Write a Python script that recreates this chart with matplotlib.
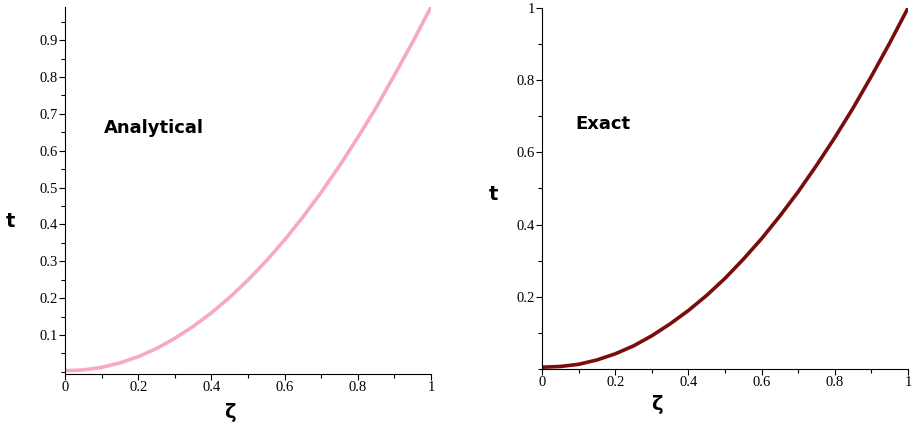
import matplotlib
matplotlib.use("Agg")
import matplotlib.pyplot as plt
from matplotlib.ticker import MultipleLocator

zeta = [0.0, 0.05, 0.1, 0.15, 0.2, 0.25, 0.3, 0.35, 0.4, 0.45, 0.5,
        0.55, 0.6, 0.65, 0.7, 0.75, 0.8, 0.85, 0.9, 0.95, 1.0]
t_analytical = [0.003, 0.005, 0.012, 0.024, 0.041, 0.063, 0.091, 0.123, 0.160,
                0.202, 0.249, 0.301, 0.358, 0.420, 0.487, 0.559, 0.636,
                0.717, 0.805, 0.895, 0.990]
t_exact = [0.005, 0.007, 0.013, 0.025, 0.042, 0.064, 0.092, 0.125, 0.162,
           0.204, 0.251, 0.304, 0.361, 0.424, 0.491, 0.564, 0.641,
           0.723, 0.811, 0.903, 1.000]

fig = plt.figure(figsize=(9.2, 4.32), dpi=100)

def tick_fmt(v, pos):
    return "%g" % round(v, 3)

def style_axes(ax, yminor):
    for side in ("top", "right"):
        ax.spines[side].set_visible(False)
    ax.xaxis.set_major_locator(MultipleLocator(0.2))
    ax.xaxis.set_minor_locator(MultipleLocator(0.1))
    ax.yaxis.set_minor_locator(MultipleLocator(yminor))
    ax.xaxis.set_major_formatter(plt.FuncFormatter(tick_fmt))
    ax.yaxis.set_major_formatter(plt.FuncFormatter(tick_fmt))
    ax.tick_params(which="major", direction="out", length=4, width=0.8,
                   labelsize=10.5, pad=1)
    ax.tick_params(which="minor", direction="out", length=3, width=0.8)
    for lab in ax.get_xticklabels() + ax.get_yticklabels():
        lab.set_family("Liberation Serif")

# left panel: analytical
ax1 = fig.add_axes([65 / 920, 58 / 432, 366 / 920, 367 / 432])
ax1.plot(zeta, t_analytical, color="#f7aabe", lw=2.6, solid_capstyle="round")
ax1.set_xlim(0, 1)
ax1.set_ylim(-0.006, 0.99)
ax1.set_yticks([0.1, 0.2, 0.3, 0.4, 0.5, 0.6, 0.7, 0.8, 0.9])
style_axes(ax1, 0.05)
ax1.text(0.105, 0.67, "Analytical", transform=ax1.transAxes, fontsize=13,
         fontweight="bold", family="DejaVu Sans", va="center")
fig.text(10 / 920, 1 - 222 / 432, "t", fontsize=14, fontweight="bold",
         ha="center", va="center")
fig.text(230 / 920, 1 - 412 / 432, "ζ", fontsize=14, fontweight="bold",
         ha="center", va="center")

# right panel: exact
ax2 = fig.add_axes([542 / 920, 63 / 432, 366 / 920, 361 / 432])
ax2.plot(zeta, t_exact, color="#7a0c0c", lw=2.6, solid_capstyle="round")
ax2.set_xlim(0, 1)
ax2.set_ylim(0, 1)
ax2.set_yticks([0.2, 0.4, 0.6, 0.8, 1.0])
style_axes(ax2, 0.1)
ax2.text(0.09, 0.68, "Exact", transform=ax2.transAxes, fontsize=13,
         fontweight="bold", family="DejaVu Sans", va="center")
fig.text(493 / 920, 1 - 195 / 432, "t", fontsize=14, fontweight="bold",
         ha="center", va="center")
fig.text(657 / 920, 1 - 405 / 432, "ζ", fontsize=14, fontweight="bold",
         ha="center", va="center")

fig.savefig("out.png", dpi=100)
